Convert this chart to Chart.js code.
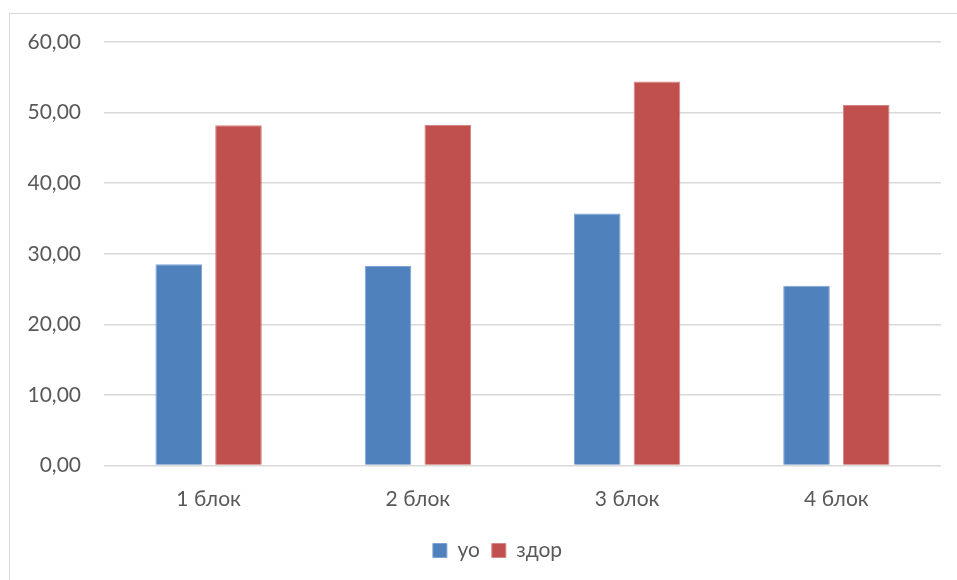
<!DOCTYPE html>
<html>
<head>
<meta charset="utf-8">
<script src="https://cdn.jsdelivr.net/npm/chart.js@4"></script>
<style>
  body { margin: 0; background: #fff; }
  #frame { position: absolute; left: 9px; top: 13px; width: 960px; height: 580px; border: 1px solid #d9d9d9; }
  #wrap { position: absolute; left: 0; top: 0; width: 957px; height: 580px; }
</style>
</head>
<body>
<div id="frame"></div>
<div id="wrap"><canvas id="chart"></canvas></div>
<script>
const categories = ['1 блок', '2 блок', '3 блок', '4 блок']
const uo = [28.53, 28.25, 35.69, 25.48]
const zdor = [48.22, 48.25, 54.4, 51.06]
const yTicks = [0, 10, 20, 30, 40, 50, 60]

const textColor = '#595959'
const font = {family: 'Lato', size: 21}

// shift the legend a bit to the right, like in the original
const legendShift = {
    id: 'legendShift',
    afterLayout(chart) {
        chart.legend.left += 27
        chart.legend.right += 27
    }
}

let ctx = document.getElementById('chart')
let barChart = new Chart(ctx, {
    type: 'bar',
    data: {
        labels: categories,
        datasets: [
            {label: 'уо', data: uo, backgroundColor: '#4f81bd', borderColor: '#7ea3d3', borderWidth: 1},
            {label: 'здор', data: zdor, backgroundColor: '#c0504d', borderColor: '#d68583', borderWidth: 1}
        ]
    },
    options: {
        responsive: true,
        maintainAspectRatio: false,
        animation: false,
        categoryPercentage: 0.571,
        barPercentage: 0.78,
        layout: {padding: {left: 0, right: 16, top: 42, bottom: 9}},
        plugins: {
            tooltip: {enabled: false},
            legend: {
                position: 'bottom',
                labels: {color: textColor, font: font, boxWidth: 14, boxHeight: 14, padding: 12}
            }
        },
        scales: {
            x: {
                grid: {display: false, drawTicks: false},
                border: {display: false},
                ticks: {color: textColor, font: font, padding: 21},
                afterFit: (s) => { s.height = 62.5 }
            },
            y: {
                min: yTicks[0],
                max: yTicks[yTicks.length - 1],
                afterBuildTicks: (s) => { s.ticks = yTicks.map(v => ({value: v})) },
                grid: {color: '#d9d9d9', lineWidth: 1.5, drawTicks: false},
                border: {display: false},
                ticks: {
                    color: textColor, font: font, padding: 23,
                    callback: (v) => v.toFixed(2).replace('.', ',')
                },
                afterFit: (s) => { s.width = 104 }
            }
        }
    },
    plugins: [legendShift]
})
</script>
</body>
</html>
